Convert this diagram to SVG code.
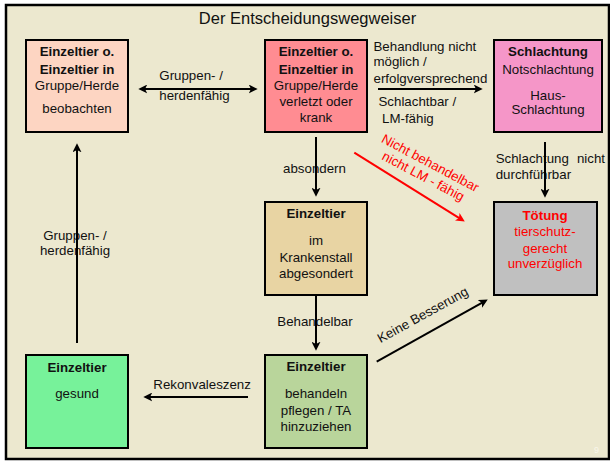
<svg xmlns="http://www.w3.org/2000/svg" width="610" height="461" viewBox="0 0 610 461">
<style>
.t{font-family:"Liberation Sans",Arial,sans-serif;font-size:13.3px;fill:#111;}
.c{text-anchor:middle}
.b{font-weight:bold}
.red{fill:#FF0000}
.box{stroke:#000;stroke-width:2}
.ln{stroke:#000;stroke-width:2;fill:none}
.lr{stroke:#FF0000;stroke-width:2;fill:none}
</style>
<defs>
<marker id="ah" viewBox="0 0 10 10" refX="7" refY="5" markerWidth="9" markerHeight="9" markerUnits="userSpaceOnUse" orient="auto-start-reverse"><path d="M0,0 L10,5 L0,10 L2.5,5 z" fill="#000"/></marker>
<marker id="ahr" viewBox="0 0 10 10" refX="7" refY="5" markerWidth="9" markerHeight="9" markerUnits="userSpaceOnUse" orient="auto"><path d="M0,0 L10,5 L0,10 L2.5,5 z" fill="#FF0000"/></marker>
</defs>
<rect x="0" y="0" width="610" height="461" fill="#fff"/>
<rect x="6" y="5" width="603" height="454" fill="#ECE8CF" stroke="#000" stroke-width="2.5"/>
<text class="t c" x="307.5" y="24" style="font-size:16.5px">Der Entscheidungswegweiser</text>

<g id="beobachten">
<rect class="box" x="26" y="40" width="102" height="92" fill="#FDD5C2"/>
<text class="t c b" x="77" y="56.3">Einzeltier o.</text>
<text class="t c b" x="77" y="74">Einzeltier in</text>
<text class="t c" x="77" y="89.5">Gruppe/Herde</text>
<text class="t c" x="77" y="113.3">beobachten</text>
</g>

<g id="krank">
<rect class="box" x="265" y="40" width="102" height="92" fill="#FF8C92"/>
<text class="t c b" x="316" y="56.3">Einzeltier o.</text>
<text class="t c b" x="316" y="74">Einzeltier in</text>
<text class="t c" x="316" y="89.5">Gruppe/Herde</text>
<text class="t c" x="316" y="106">verletzt oder</text>
<text class="t c" x="316" y="122">krank</text>
</g>

<g id="schlachtung">
<rect class="box" x="494" y="40" width="108" height="92" fill="#F596C8"/>
<text class="t c b" x="548" y="56">Schlachtung</text>
<text class="t c" x="548" y="74">Notschlachtung</text>
<text class="t c" x="548" y="99.5">Haus-</text>
<text class="t c" x="548" y="113.5">Schlachtung</text>
</g>

<g id="abgesondert">
<rect class="box" x="265" y="202" width="102" height="93" fill="#E8D4A3"/>
<text class="t c b" x="316" y="218">Einzeltier</text>
<text class="t c" x="316" y="245">im</text>
<text class="t c" x="316" y="262">Krankenstall</text>
<text class="t c" x="316" y="278">abgesondert</text>
</g>

<g id="toetung">
<rect class="box" x="494" y="202" width="103" height="93" fill="#C0C0C0"/>
<text class="t c b red" x="545" y="220">Tötung</text>
<text class="t c red" x="545" y="236">tierschutz-</text>
<text class="t c red" x="545" y="252.5">gerecht</text>
<text class="t c red" x="545" y="268">unverzüglich</text>
</g>

<g id="behandeln">
<rect class="box" x="265" y="355" width="102" height="93" fill="#B9D59B"/>
<text class="t c b" x="316" y="371.3">Einzeltier</text>
<text class="t c" x="316" y="398">behandeln</text>
<text class="t c" x="316" y="414.5">pflegen / TA</text>
<text class="t c" x="316" y="431">hinzuziehen</text>
</g>

<g id="gesund">
<rect class="box" x="26" y="355" width="102" height="93" fill="#77F29A"/>
<text class="t c b" x="77" y="372">Einzeltier</text>
<text class="t c" x="77" y="398">gesund</text>
</g>

<g id="connectors">
<text class="t" x="159.3" y="79.5">Gruppen- /</text>
<text class="t" x="159.3" y="99.5">herdenfähig</text>
<line class="ln" x1="141" y1="89" x2="255" y2="89" marker-start="url(#ah)" marker-end="url(#ah)"/>

<text class="t" x="373.5" y="51">Behandlung nicht</text>
<text class="t" x="373.5" y="66">möglich /</text>
<text class="t" x="373.5" y="83">erfolgversprechend</text>
<text class="t" x="378.5" y="106">Schlachtbar /</text>
<text class="t" x="382" y="122.5">LM-fähig</text>
<line class="ln" x1="378" y1="89" x2="480" y2="89" marker-end="url(#ah)"/>

<text class="t c" x="314.5" y="172.5">absondern</text>
<line class="ln" x1="316" y1="137" x2="316" y2="194" marker-end="url(#ah)"/>

<text class="t c" x="315" y="325.5">Behandelbar</text>
<line class="ln" x1="316" y1="295" x2="316" y2="348" marker-end="url(#ah)"/>

<text class="t" x="153.3" y="388.5">Rekonvaleszenz</text>
<line class="ln" x1="248" y1="397" x2="146" y2="397" marker-end="url(#ah)"/>

<text class="t c" x="75" y="239.5">Gruppen- /</text>
<text class="t c" x="75" y="254.5">herdenfähig</text>
<line class="ln" x1="77" y1="343" x2="77" y2="146" marker-end="url(#ah)"/>

<text class="t" x="495.7" y="163">Schlachtung</text>
<text class="t" x="605" y="163" style="text-anchor:end">nicht</text>
<text class="t" x="495.7" y="179">durchführbar</text>
<line class="ln" x1="545" y1="142" x2="545" y2="195" marker-end="url(#ah)"/>

<g transform="translate(428.2,167) rotate(28)">
<text class="t c red" x="0" y="0">Nicht behandelbar</text>
<text class="t c red" x="0" y="15">nicht LM - fähig</text>
</g>
<line class="lr" x1="354.3" y1="152.7" x2="462.5" y2="220.1" marker-end="url(#ahr)"/>

<g transform="translate(424.9,318.8) rotate(-29)">
<text class="t c" x="0" y="0">Keine Besserung</text>
</g>
<line class="ln" x1="376.7" y1="361.7" x2="485.4" y2="300.8" marker-end="url(#ah)"/>
</g>

<text x="594" y="453" style="font-family:'Liberation Sans',Arial,sans-serif;font-size:9px;fill:#F8F6EA">9</text>
</svg>
